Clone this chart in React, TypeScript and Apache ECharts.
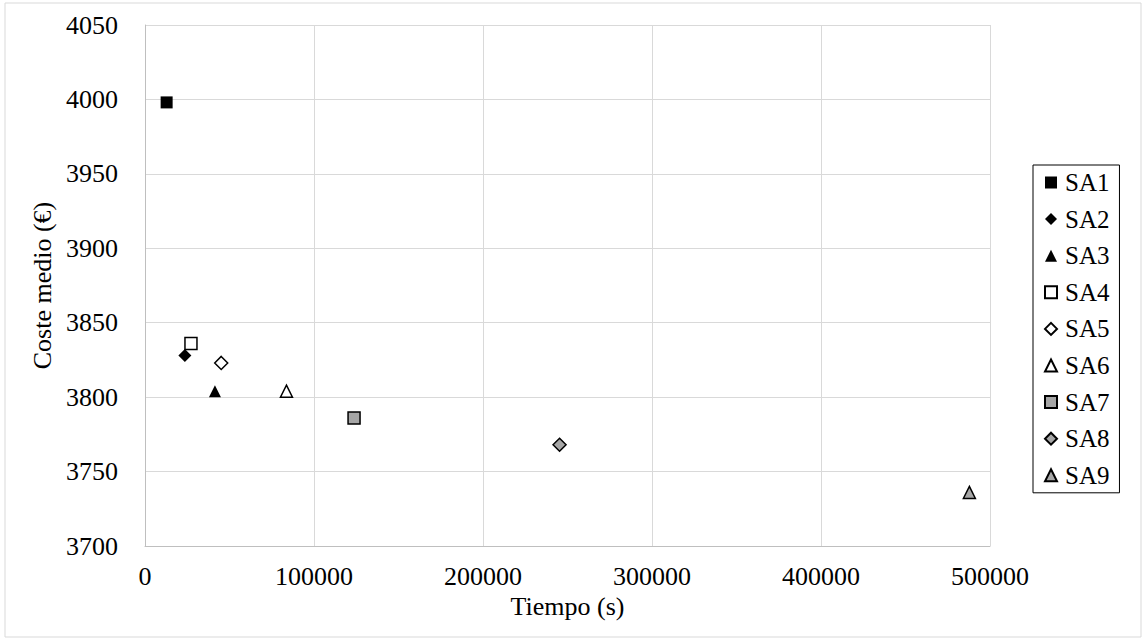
import React, { useEffect, useRef } from "react";
import * as echarts from "echarts";

const seriesNames = ["SA1", "SA2", "SA3", "SA4", "SA5", "SA6", "SA7", "SA8", "SA9"];
const timeValues = [12800, 23600, 41400, 27200, 45100, 83700, 123700, 245300, 487800];
const costValues = [3998, 3828, 3804, 3836, 3823, 3804, 3786, 3768, 3736];
const symbols = ["rect", "diamond", "triangle", "rect", "diamond", "triangle", "rect", "diamond", "triangle"];
const fills = ["#000000", "#000000", "#000000", "#ffffff", "#ffffff", "#ffffff", "#a6a6a6", "#a6a6a6", "#a6a6a6"];
const xTicks = [0, 100000, 200000, 300000, 400000, 500000];
const yMin = 3700;
const yMax = 4050;
const yStep = 50;

export default function App() {
  const ref = useRef<HTMLDivElement>(null);
  useEffect(() => {
    if (!ref.current) return;
    const chart = echarts.init(ref.current, null, { renderer: "svg" });
    const font = "'Liberation Serif', 'Times New Roman', serif";
    chart.setOption({
      animation: false,
      backgroundColor: "#ffffff",
      textStyle: { fontFamily: font },
      grid: { left: 145, right: 157, top: 25, bottom: 95 },
      graphic: [
        {
          type: "rect",
          shape: { x: 5, y: 3, width: 1136, height: 634 },
          style: { fill: "none", stroke: "#d9d9d9", lineWidth: 1 },
          silent: true,
        },
      ],
      xAxis: {
        type: "value",
        min: xTicks[0],
        max: xTicks[xTicks.length - 1],
        interval: xTicks[1] - xTicks[0],
        name: "Tiempo (s)",
        nameLocation: "middle",
        nameGap: 47,
        nameTextStyle: { fontFamily: font, fontSize: 26, color: "#000" },
        axisLine: { show: true, lineStyle: { color: "#bfbfbf", width: 1 } },
        axisTick: { show: false },
        axisLabel: {
          fontFamily: font,
          fontSize: 26,
          color: "#000",
          margin: 17,
          formatter: (v: number) => String(v),
        },
        splitLine: { show: true, lineStyle: { color: "#d9d9d9", width: 1 } },
      },
      yAxis: {
        type: "value",
        min: yMin,
        max: yMax,
        interval: yStep,
        name: "Coste medio (€)",
        nameLocation: "middle",
        nameGap: 90,
        nameTextStyle: { fontFamily: font, fontSize: 26, color: "#000" },
        axisLine: { show: true, lineStyle: { color: "#bfbfbf", width: 1 } },
        axisTick: { show: false },
        axisLabel: {
          fontFamily: font,
          fontSize: 26,
          color: "#000",
          margin: 27,
          formatter: (v: number) => String(v),
        },
        splitLine: { show: true, lineStyle: { color: "#d9d9d9", width: 1 } },
      },
      legend: {
        orient: "vertical",
        left: 1033,
        top: 165,
        width: 105,
        padding: [5, 10, 5, 11],
        itemGap: 11.6,
        itemWidth: 12,
        itemHeight: 12,
        borderColor: "#000",
        borderWidth: 1,
        textStyle: { fontFamily: font, fontSize: 25, lineHeight: 25, color: "#000", padding: [0, 0, 0, 3] },
        data: seriesNames,
      },
      series: seriesNames.map((name, i) => ({
        name,
        type: "scatter",
        symbol: symbols[i],
        symbolSize: symbols[i] === "diamond" ? 13 : 12,
        data: [[timeValues[i], costValues[i]]],
        itemStyle: {
          color: fills[i],
          opacity: 1,
          borderColor: "#000",
          borderWidth: i < 3 ? 0 : 1.5,
        },
      })),
    });
    return () => chart.dispose();
  }, []);
  return (
    <div
      ref={ref}
      style={{ position: "fixed", left: 0, top: 0, width: 1147, height: 641 }}
    />
  );
}
